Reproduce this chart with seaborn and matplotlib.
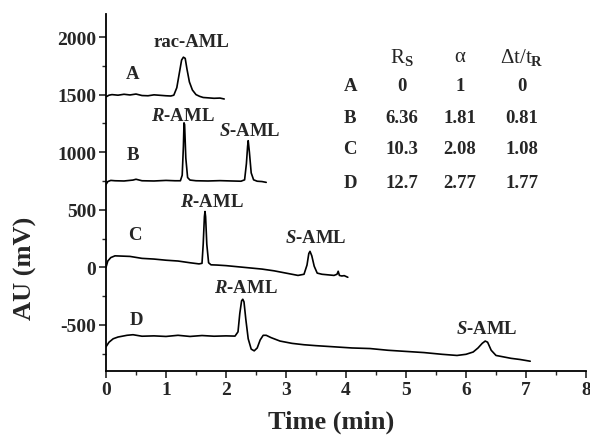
import numpy as np
import pandas as pd
import matplotlib
matplotlib.use("Agg")
import matplotlib.pyplot as plt
from matplotlib.ticker import MultipleLocator
import seaborn as sns

# ---------------- data ----------------
time_A = [0, 0.05, 0.1, 0.2, 0.3, 0.4, 0.5, 0.6, 0.7, 0.8, 0.9, 1.0, 1.08, 1.13, 1.18,
          1.22, 1.26, 1.29, 1.32, 1.35, 1.39, 1.44, 1.50, 1.56, 1.62, 1.70, 1.80, 1.90, 1.97]
au_A = [1480, 1495, 1500, 1495, 1503, 1497, 1505, 1492, 1490, 1498, 1494, 1490, 1488, 1495, 1560,
        1680, 1800, 1825, 1815, 1720, 1610, 1540, 1500, 1485, 1475, 1472, 1468, 1470, 1462]

time_B = [0, 0.03, 0.08, 0.15, 0.3, 0.45, 0.5, 0.6, 0.8, 1.0, 1.15, 1.24, 1.27, 1.29, 1.30,
          1.31, 1.33, 1.36, 1.40, 1.5, 1.7, 1.9, 2.1, 2.25, 2.31, 2.34, 2.36, 2.37, 2.39,
          2.42, 2.46, 2.52, 2.6, 2.67]
au_B = [720, 745, 755, 752, 750, 758, 765, 752, 750, 755, 752, 752, 800, 1050, 1255,
        1240, 950, 780, 758, 752, 750, 753, 750, 748, 760, 900, 1050, 1100, 1000,
        820, 760, 748, 745, 738]

time_C = [0, 0.03, 0.08, 0.15, 0.25, 0.4, 0.6, 0.8, 1.0, 1.2, 1.4, 1.55, 1.6, 1.62, 1.64,
          1.65, 1.66, 1.68, 1.71, 1.75, 1.85, 2.0, 2.2, 2.4, 2.6, 2.8, 3.0, 3.2, 3.3, 3.35,
          3.38, 3.40, 3.43, 3.47, 3.52, 3.6, 3.7, 3.8, 3.85, 3.87, 3.89, 3.93, 3.97, 4.03]
au_C = [0, 55, 85, 100, 98, 95, 78, 72, 62, 55, 40, 30, 35, 200, 440,
        485, 440, 200, 40, 22, 20, 15, 5, -5, -15, -30, -50, -70, -60, 20,
        120, 139, 100, 10, -50, -60, -65, -70, -60, -34, -70, -75, -72, -86]

time_D = [0, 0.05, 0.12, 0.2, 0.35, 0.45, 0.6, 0.8, 1.0, 1.2, 1.4, 1.6, 1.8, 2.0, 2.15,
          2.2, 2.23, 2.26, 2.28, 2.30, 2.33, 2.37, 2.42, 2.47, 2.52, 2.57, 2.62, 2.67, 2.75,
          2.9, 3.1, 3.3, 3.5, 3.8, 4.1, 4.4, 4.7, 5.0, 5.3, 5.6, 5.85, 6.0, 6.12, 6.2,
          6.27, 6.32, 6.36, 6.42, 6.5, 6.6, 6.75, 6.9, 7.07]
au_D = [-690, -650, -620, -605, -590, -585, -598, -595, -600, -590, -600, -592, -598, -595, -597,
        -560, -400, -290, -277, -300, -450, -620, -710, -725, -700, -630, -590, -590, -610,
        -640, -660, -672, -680, -690, -700, -705, -720, -730, -740, -755, -765, -755, -735, -700,
        -660, -640, -650, -720, -765, -775, -790, -800, -815]

table_rows = ["A", "B", "C", "D"]
rs_vals = ["0", "6.36", "10.3", "12.7"]
alpha_vals = ["1", "1.81", "2.08", "2.77"]
dt_vals = ["0", "0.81", "1.08", "1.77"]

# ---------------- style ----------------
sns.set_theme(style="ticks")
plt.rcParams["font.family"] = ["Liberation Serif", "DejaVu Serif"]
plt.rcParams["font.weight"] = "bold"
plt.rcParams["axes.unicode_minus"] = False
plt.rcParams["mathtext.fontset"] = "custom"
plt.rcParams["mathtext.rm"] = "Liberation Serif"
plt.rcParams["mathtext.it"] = "Liberation Serif:italic:bold"
plt.rcParams["mathtext.bf"] = "Liberation Serif:bold"

fig = plt.figure(figsize=(5.9, 4.39), dpi=100)
ax = fig.add_axes([106 / 590, 1 - 372 / 439, 480 / 590, 357 / 439])

frames = []
for name, t, v in [("A", time_A, au_A), ("B", time_B, au_B),
                   ("C", time_C, au_C), ("D", time_D, au_D)]:
    frames.append(pd.DataFrame({"time": t, "au": v, "trace": name}))
df = pd.concat(frames, ignore_index=True)

sns.lineplot(data=df, x="time", y="au", units="trace", estimator=None,
             color="black", linewidth=1.2, ax=ax, legend=False)

ax.set_xlim(0, 8)
ax.set_ylim(-900, 2200)
ax.xaxis.set_major_locator(MultipleLocator(1))
ax.xaxis.set_minor_locator(MultipleLocator(0.5))
ax.yaxis.set_major_locator(MultipleLocator(500))
ax.yaxis.set_minor_locator(MultipleLocator(250))
ax.set_yticks([-500, 0, 500, 1000, 1500, 2000])
ax.tick_params(which="major", direction="out", length=5, width=1.2, labelsize=14, pad=2)
ax.tick_params(which="minor", direction="out", length=3, width=1.0)
for lab in ax.get_xticklabels() + ax.get_yticklabels():
    lab.set_fontweight("bold")
for s in ["top", "right"]:
    ax.spines[s].set_visible(False)
for s in ["left", "bottom"]:
    ax.spines[s].set_linewidth(1.3)
    ax.spines[s].set_color("black")

ax.set_xlabel("Time (min)", fontsize=19, fontweight="bold")
ax.set_ylabel("AU (mV)", fontsize=19, fontweight="bold")
ax.xaxis.set_label_coords(0.47, -0.107)
ax.yaxis.set_label_coords(-0.144, 0.29)

fs = 13.5
# trace annotations
ax.text(1.43, 1957, "rac-AML", ha="center", va="center", fontsize=fs, fontweight="bold")
ax.text(0.45, 1680, "A", ha="center", va="center", fontsize=fs, fontweight="bold")
ax.text(1.28, 1320, r"$\mathit{R}$-AML", ha="center", va="center", fontsize=fs, fontweight="bold")
ax.text(2.40, 1186, r"$\mathit{S}$-AML", ha="center", va="center", fontsize=fs, fontweight="bold")
ax.text(0.45, 978, "B", ha="center", va="center", fontsize=fs, fontweight="bold")
ax.text(1.77, 571, r"$\mathit{R}$-AML", ha="center", va="center", fontsize=fs, fontweight="bold")
ax.text(0.48, 286, "C", ha="center", va="center", fontsize=fs, fontweight="bold")
ax.text(3.50, 260, r"$\mathit{S}$-AML", ha="center", va="center", fontsize=fs, fontweight="bold")
ax.text(2.33, -173, r"$\mathit{R}$-AML", ha="center", va="center", fontsize=fs, fontweight="bold")
ax.text(0.50, -450, "D", ha="center", va="center", fontsize=fs, fontweight="bold")
ax.text(6.35, -528, r"$\mathit{S}$-AML", ha="center", va="center", fontsize=fs, fontweight="bold")

# table
col_x = [4.07, 4.93, 5.90, 6.93]
header_y = 1827
row_y = [1576, 1299, 1030, 736]
ax.text(col_x[1], header_y, r"R$_{\mathrm{S}}$", ha="center", va="center", fontsize=15, fontweight="normal")
ax.text(col_x[2], header_y, "α", ha="center", va="center", fontsize=15, fontweight="normal")
ax.text(col_x[3], header_y, r"Δt/t$_{\mathrm{R}}$", ha="center", va="center", fontsize=15, fontweight="normal")
for i, r in enumerate(table_rows):
    ax.text(col_x[0], row_y[i], r, ha="center", va="center", fontsize=fs, fontweight="bold")
    ax.text(col_x[1], row_y[i], rs_vals[i], ha="center", va="center", fontsize=fs, fontweight="bold")
    ax.text(col_x[2], row_y[i], alpha_vals[i], ha="center", va="center", fontsize=fs, fontweight="bold")
    ax.text(col_x[3], row_y[i], dt_vals[i], ha="center", va="center", fontsize=fs, fontweight="bold")

fig.savefig("out.png", dpi=100, facecolor="white")
